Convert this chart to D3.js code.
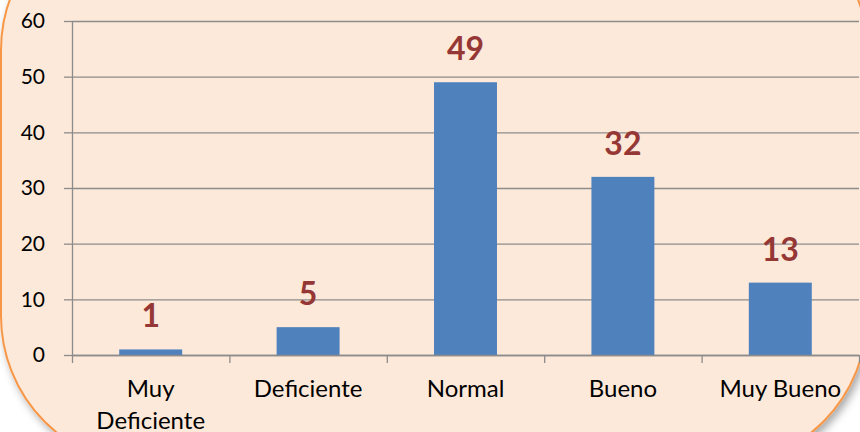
<!DOCTYPE html>
<html>
<head>
<meta charset="utf-8">
<script src="https://cdn.jsdelivr.net/npm/d3@7"></script>
<style>
  html, body { margin: 0; padding: 0; background: #ffffff; }
  svg { display: block; font-family: Lato, "Open Sans", sans-serif; }
</style>
</head>
<body>
<div class="canvas"></div>
<script>
const categories = ['Muy Deficiente', 'Deficiente', 'Normal', 'Bueno', 'Muy Bueno'];
const values = [1, 5, 49, 32, 13];
const yTicks = [0, 10, 20, 30, 40, 50, 60];

const svgDims = { width: 860, height: 432 };
const margin = { top: 21, right: 1, bottom: 77, left: 72 };
const graphWidth = svgDims.width - margin.left - margin.right;
const graphHeight = svgDims.height - margin.top - margin.bottom;

const svg = d3.select('.canvas')
    .append('svg')
    .attr('width', svgDims.width)
    .attr('height', svgDims.height);

// soft shadow under the rounded panel
const defs = svg.append('defs');
const shadow = defs.append('filter')
    .attr('id', 'shadow')
    .attr('x', '-10%').attr('y', '-10%')
    .attr('width', '130%').attr('height', '130%');
shadow.append('feDropShadow')
    .attr('dx', 3).attr('dy', 4)
    .attr('stdDeviation', 4)
    .attr('flood-color', '#000')
    .attr('flood-opacity', 0.35);

svg.append('rect')
    .attr('x', 1)
    .attr('y', -100)
    .attr('width', 866)
    .attr('height', 566)
    .attr('rx', 150)
    .attr('fill', '#fde9d9')
    .attr('stroke', '#f79646')
    .attr('stroke-width', 2)
    .attr('filter', 'url(#shadow)');

const graph = svg.append('g')
    .attr('transform', `translate(${margin.left}, ${margin.top})`);

const x = d3.scaleBand()
    .domain(categories)
    .range([0, graphWidth])
    .paddingInner(0.6)
    .paddingOuter(0.3);

const y = d3.scaleLinear()
    .domain([0, 60])
    .range([graphHeight, 0]);

// gridlines
graph.append('g')
    .attr('class', 'grid')
    .call(d3.axisLeft(y).tickValues(yTicks).tickSize(-graphWidth).tickFormat(''))
    .call(g => g.select('.domain').remove())
    .selectAll('line')
        .attr('stroke', '#8c8c8c')
        .attr('stroke-width', 1.3);

// bars
graph.selectAll('rect.bar')
    .data(values)
    .enter()
    .append('rect')
        .attr('class', 'bar')
        .attr('x', (d, i) => x(categories[i]))
        .attr('y', d => y(d))
        .attr('width', x.bandwidth())
        .attr('height', d => graphHeight - y(d))
        .attr('fill', '#4f81bd');

// value labels
graph.selectAll('text.value')
    .data(values)
    .enter()
    .append('text')
        .attr('class', 'value')
        .attr('x', (d, i) => x(categories[i]) + x.bandwidth() / 2)
        .attr('y', d => y(d) - 22)
        .attr('text-anchor', 'middle')
        .attr('font-size', 32)
        .attr('font-weight', 'bold')
        .attr('fill', '#953735')
        .text(d => d);

// y axis
const yAxisGroup = graph.append('g')
    .attr('class', 'y-axis')
    .call(d3.axisLeft(y).tickValues(yTicks).tickSize(8).tickPadding(19).tickSizeOuter(0));
yAxisGroup.selectAll('line, path')
    .attr('stroke', '#8c8c8c')
    .attr('stroke-width', 1.3);
yAxisGroup.selectAll('text')
    .attr('font-size', 21)
    .attr('font-family', 'Lato, sans-serif')
    .attr('fill', '#000');

// x axis: boundary ticks
const xEdges = d3.scaleLinear().domain([0, categories.length]).range([0, graphWidth]);
const xTickGroup = graph.append('g')
    .attr('transform', `translate(0, ${graphHeight})`)
    .call(d3.axisBottom(xEdges).tickValues(d3.range(categories.length + 1)).tickSize(8).tickSizeOuter(0).tickFormat(''));
xTickGroup.selectAll('line, path')
    .attr('stroke', '#8c8c8c')
    .attr('stroke-width', 1.3);

// x axis: category labels
const xAxisGroup = graph.append('g')
    .attr('transform', `translate(0, ${graphHeight})`)
    .call(d3.axisBottom(x).tickSize(0).tickSizeOuter(0));
xAxisGroup.select('.domain').remove();
xAxisGroup.selectAll('text')
    .attr('font-size', 24)
    .attr('font-family', 'Lato, sans-serif')
    .attr('fill', '#000')
    .attr('y', 42)
    .attr('dy', 0)
    .each(function(d) {
        const el = d3.select(this);
        if (d === 'Muy Deficiente') {
            el.text(null);
            el.append('tspan').attr('x', 0).attr('dy', 0).text('Muy');
            el.append('tspan').attr('x', 0).attr('dy', 32).text('Deficiente');
        }
    });
</script>
</body>
</html>
